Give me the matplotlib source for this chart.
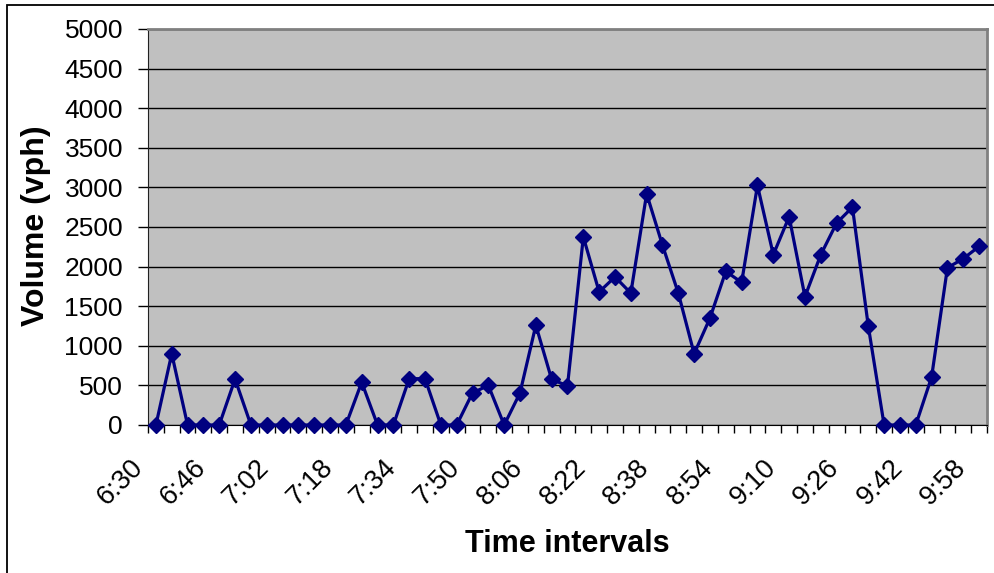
import numpy as np
import matplotlib
matplotlib.use('Agg')
import matplotlib.pyplot as plt
import matplotlib.transforms as mtransforms
from matplotlib.patches import Rectangle

plt.rcParams['font.family'] = ['Liberation Sans', 'DejaVu Sans']

# 4-minute intervals from 6:30 to 9:58
times = ['6:30', '6:34', '6:38', '6:42', '6:46', '6:50', '6:54', '6:58',
         '7:02', '7:06', '7:10', '7:14', '7:18', '7:22', '7:26', '7:30',
         '7:34', '7:38', '7:42', '7:46', '7:50', '7:54', '7:58', '8:02',
         '8:06', '8:10', '8:14', '8:18', '8:22', '8:26', '8:30', '8:34',
         '8:38', '8:42', '8:46', '8:50', '8:54', '8:58', '9:02', '9:06',
         '9:10', '9:14', '9:18', '9:22', '9:26', '9:30', '9:34', '9:38',
         '9:42', '9:46', '9:50', '9:54', '9:58']
volume = [0, 900, 0, 0, 0, 580, 0, 0, 0, 0, 0, 0, 0, 540, 0, 0, 585, 585,
          0, 0, 405, 500, 0, 405, 1260, 575, 495, 2375, 1680, 1870, 1665,
          2920, 2270, 1665, 900, 1350, 1940, 1800, 3025, 2150, 2630, 1620,
          2150, 2550, 2750, 1250, 0, 0, 0, 605, 1985, 2100, 2255]
y_ticks = [0, 500, 1000, 1500, 2000, 2500, 3000, 3500, 4000, 4500, 5000]

fig = plt.figure(figsize=(9.95, 5.73), dpi=100)
fig.patches.append(Rectangle((7 / 995, -0.1), 1.2, (568 / 573) + 0.1,
                             transform=fig.transFigure, fill=False,
                             edgecolor='black', linewidth=1.3))

ax = fig.add_axes([148 / 995, 1 - 425 / 573, 839 / 995, 396 / 573])
ax.set_facecolor('#C0C0C0')

x = np.arange(len(times))
ax.plot(x, volume, color='#000080', linewidth=2.3, marker='D',
        markersize=8.5, markerfacecolor='#000080', markeredgecolor='#000080',
        zorder=3, clip_on=False)

ax.set_xlim(-0.5, len(times) - 0.5)
ax.set_ylim(0, 5000)
ax.set_yticks(y_ticks)
ax.set_yticklabels([str(v) for v in y_ticks], fontsize=19)
ax.yaxis.grid(True, color='black', linewidth=1)
ax.set_axisbelow(True)

# category boundaries get the tick marks, labels every 4th category
ax.set_xticks(np.arange(-0.5, len(times), 1.0), minor=True)
ax.set_xticks(x[::4])
ax.set_xticklabels(times[::4], rotation=45, ha='right', va='center',
                   rotation_mode='anchor', fontsize=19.5)
ax.tick_params(axis='x', which='major', length=0, pad=28)
ax.tick_params(axis='x', which='minor', length=6, width=1, color='black')
ax.tick_params(axis='y', length=7, width=1, color='black', pad=11)
shift = mtransforms.ScaledTranslation(-17 / 100, 0, fig.dpi_scale_trans)
for lab in ax.get_xticklabels():
    lab.set_transform(lab.get_transform() + shift)

for side in ['top', 'right']:
    ax.spines[side].set_color('#808080')
    ax.spines[side].set_linewidth(2)
ax.spines['left'].set_color('#202020')
ax.spines['bottom'].set_color('black')

fig.text(36 / 995, 1 - 226 / 573, 'Volume (vph)', rotation=90, ha='center',
         va='center', fontsize=23, fontweight='bold')
fig.text(567 / 995, 1 - 544 / 573, 'Time intervals', ha='center',
         va='center', fontsize=22, fontweight='bold')

fig.savefig('out.png', dpi=100)
